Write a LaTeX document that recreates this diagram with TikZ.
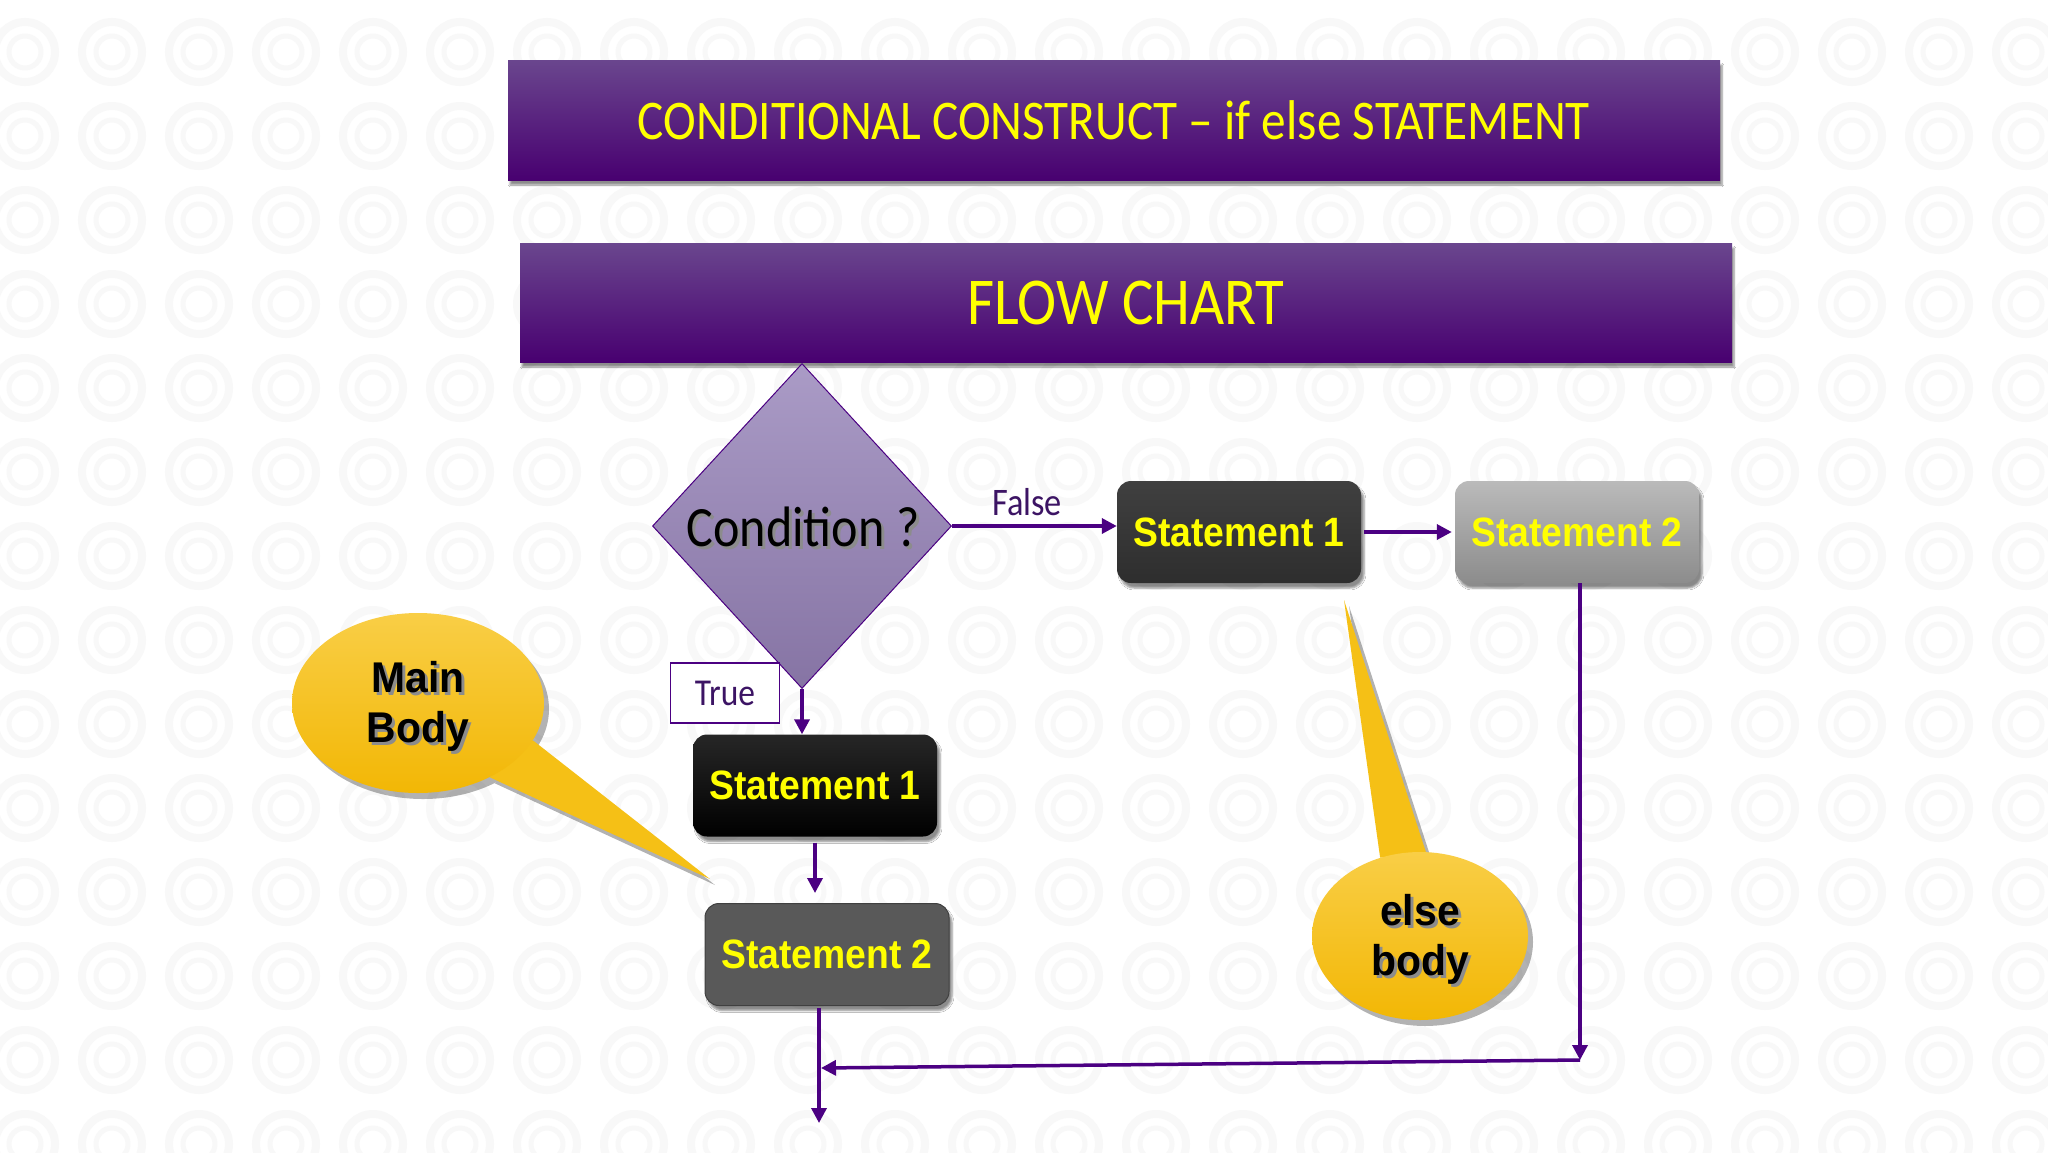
\documentclass[tikz,border=0pt]{standalone}
\usepackage{fontspec}
\setmainfont{Carlito}
\newfontfamily\cond{Carlito}[FakeStretch=0.88,Ligatures=TeX]
\newfontfamily\arb{Liberation Sans}[FakeStretch=0.91]
\newfontfamily\arc{Liberation Sans}[FakeStretch=0.95]
\usetikzlibrary{shapes.geometric,shadows,shadows.blur,arrows.meta,calc}
\definecolor{titletop}{RGB}{106,70,142}
\definecolor{titlebot}{RGB}{72,0,112}
\definecolor{arrowpurple}{RGB}{75,0,130}
\definecolor{labelpurple}{RGB}{60,20,100}
\definecolor{statyellow}{RGB}{255,255,0}
\definecolor{diatop}{RGB}{170,155,198}
\definecolor{diabot}{RGB}{134,116,164}
\definecolor{calltop}{RGB}{249,206,70}
\definecolor{callbot}{RGB}{242,183,5}
\definecolor{calltail}{RGB}{245,192,22}
\definecolor{bgpat}{RGB}{248,248,248}
\tikzset{
  bgring/.style={draw=bgpat, line width=8pt},
  bgring2/.style={draw=bgpat, line width=5pt},
  titlebox/.style={rectangle, minimum width=1212pt, minimum height=120pt,
    top color=titletop, bottom color=titlebot, text=statyellow, inner sep=0pt,
    blur shadow={shadow xshift=2pt, shadow yshift=-5pt, shadow blur steps=6, shadow opacity=45}},
  stmtbox/.style={rectangle, rounded corners=14pt, minimum width=244pt, minimum height=102pt,
    text=statyellow, font=\arb\bfseries\fontsize{41}{45}\selectfont, inner sep=0pt,
    blur shadow={shadow xshift=3pt, shadow yshift=-5pt, shadow blur steps=5, shadow opacity=45}},
  conn/.style={draw=arrowpurple, line width=3.5pt, -{Triangle[length=15pt,width=15pt]}},
  calltext/.style={font=\arc\bfseries\fontsize{43}{50}\selectfont, align=center, text=black},
  callshade/.style={font=\arc\bfseries\fontsize{43}{50}\selectfont, align=center, text=black!45},
}
\begin{document}
\begin{tikzpicture}[x=1pt,y=-1pt]
\useasboundingbox (0,0) rectangle (2048,1152);
\fill[white] (0,0) rectangle (2048,1152);
% faint background pattern
\begin{scope}
\clip (0,0) rectangle (2048,1152);
\foreach \i in {0,...,23}{
  \foreach \j in {0,...,14}{
    \draw[bgring] ({25+87*\i},{52+84*\j}) circle[radius=30pt];
    \draw[bgring2] ({25+87*\i},{52+84*\j}) circle[radius=16pt];
  }
}
\end{scope}

% titles
\node[titlebox, font=\cond\fontsize{56}{60}\selectfont] (title1) at (1114,120) {CONDITIONAL CONSTRUCT – if else STATEMENT};
\node[titlebox, font=\cond\fontsize{67}{72}\selectfont, minimum height=119pt] (title2) at (1126,302.5) {FLOW CHART};

% callouts (drawn behind flow)
\node[ellipse, minimum width=252pt, minimum height=180pt, inner sep=0pt] (mbody) at (418,703) {};
\coordinate (mbtip) at (710,879);
\node[ellipse, minimum width=216pt, minimum height=168pt, inner sep=0pt] (ebody) at (1420,936) {};
\coordinate (ebtip) at (1344,600);
\begin{scope}[transparency group, opacity=0.3]
  \fill[black] ([shift={(5,6)}]mbody.-18) -- ([shift={(5,6)}]mbtip) -- ([shift={(5,6)}]mbody.-46) -- cycle;
  \fill[black] ([shift={(5,6)}]mbody.center) ellipse[x radius=126pt, y radius=90pt];
  \fill[black] ([shift={(5,6)}]ebody.117) -- ([shift={(5,6)}]ebtip) -- ([shift={(5,6)}]ebody.86) -- cycle;
  \fill[black] ([shift={(5,6)}]ebody.center) ellipse[x radius=108pt, y radius=84pt];
\end{scope}
\fill[calltail] (mbody.-18) -- (mbtip) -- (mbody.-46) -- cycle;
\shade[top color=calltop, bottom color=callbot] (mbody.center) ellipse[x radius=126pt, y radius=90pt];
\fill[calltail] (ebody.117) -- (ebtip) -- (ebody.86) -- cycle;
\shade[top color=calltop, bottom color=callbot] (ebody.center) ellipse[x radius=108pt, y radius=84pt];
\node[callshade] (mbshade) at ($(mbody.center)+(3,6)$) {Main\\Body};
\node[calltext] (mbtext) at ($(mbody.center)+(0,3)$) {Main\\Body};
\node[callshade] (ebshade) at ($(ebody.center)+(3,6)$) {else\\body};
\node[calltext] (ebtext) at ($(ebody.center)+(0,3)$) {else\\body};

% decision
\node[diamond, minimum width=299pt, minimum height=325pt, inner sep=0pt,
  top color=diatop, bottom color=diabot, draw=arrowpurple, line width=1pt] (cond) at (802,526) {};
\node[font=\cond\fontsize{57}{60}\selectfont, text=black!45] (condshade) at (806,530) {Condition ?};
\node[font=\cond\fontsize{57}{60}\selectfont, text=black] (condtext) at (803,527) {Condition ?};

% statements
\node[stmtbox, top color=black!75, bottom color=black!82] (es1) at (1239,532) {Statement 1};
\node[stmtbox, top color=black!27, bottom color=black!45] (es2) at (1577,532) {Statement 2};
\node[stmtbox, top color=black!85, bottom color=black] (ms1) at (815,785.5) {Statement 1};
\node[stmtbox, fill=black!65, draw=black!75, line width=1pt] (ms2) at (827,954.5) {Statement 2};

% labels
\node[rectangle, draw=arrowpurple, line width=1.5pt, fill=white, minimum width=109pt, minimum height=60pt,
  inner sep=0pt, text=labelpurple, font=\cond\fontsize{38}{40}\selectfont] (truelbl) at (725,693) {True};
\node[text=labelpurple, font=\cond\fontsize{39}{40}\selectfont] (falselbl) at (1027,502) {False};

% connectors
\coordinate (j1) at (1580,1060);
\coordinate (j2) at (821,1068);
\coordinate (outp) at (819,1123);
\draw[conn] (cond.east) -- (cond.east -| es1.west);
\draw[conn] ([xshift=3pt]es1.east) -- ([xshift=-3pt]es2.west);
\draw[conn] (cond.south) -- (cond.south |- ms1.north);
\draw[conn, shorten <=6pt, shorten >=10pt] (ms1.south) -- (ms1.south |- ms2.north);
\draw[conn] (es2.south -| j1) -- (j1);
\draw[conn] (j1) -- (j2);
\draw[conn] ([yshift=-2pt]ms2.south -| outp) -- (outp);
\end{tikzpicture}
\end{document}
